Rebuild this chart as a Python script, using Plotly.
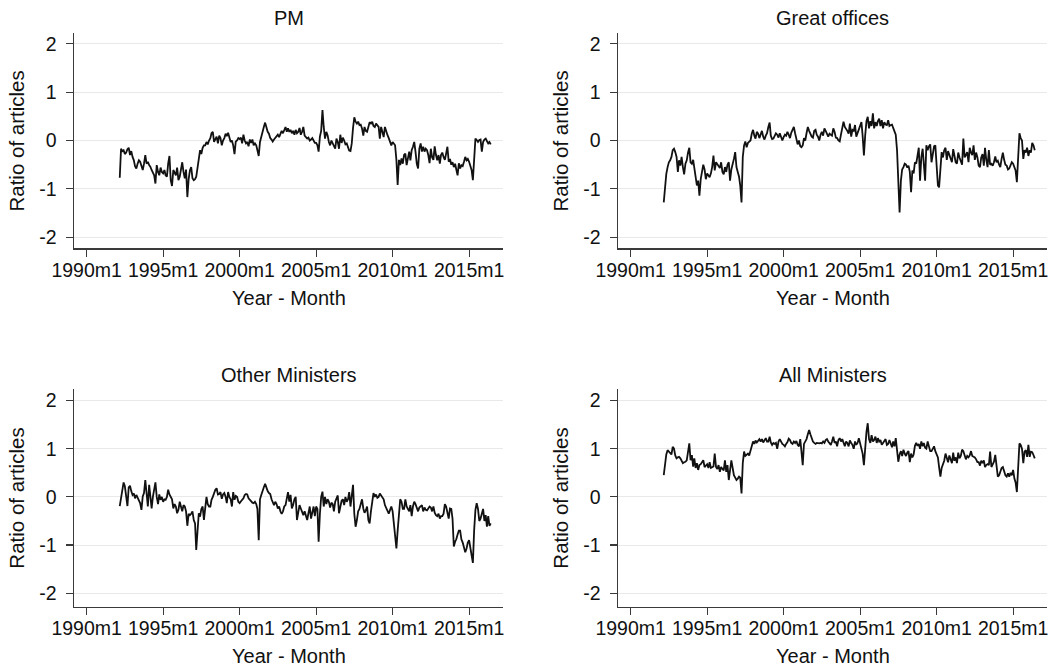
import pandas as pd
import plotly.graph_objects as go

# ---------------- data (monthly, 1992m3 .. 2016m6) ----------------
START_MONTH = "1992-03-01"
PANEL_TITLES = ["PM", "Great offices", "Other Ministers", "All Ministers"]
X_TICK_VALUES = ["1990-01-01", "1995-01-01", "2000-01-01", "2005-01-01", "2010-01-01", "2015-01-01"]
X_TICK_LABELS = ["1990m1", "1995m1", "2000m1", "2005m1", "2010m1", "2015m1"]
Y_TICKS = [-2, -1, 0, 1, 2]
Y_TICK_LABELS = ["-2", "-1", "0", "1", "2"]
X_TITLE = "Year - Month"
Y_TITLE = "Ratio of articles"

pm = [
    -0.77, -0.17, -0.22, -0.2, -0.28, -0.25, -0.18, -0.15, -0.3, -0.22,
    -0.34, -0.41, -0.53, -0.58, -0.48, -0.41, -0.44, -0.54, -0.61, -0.48, -0.3, -0.48,
    -0.44, -0.51, -0.54, -0.61, -0.68, -0.72, -0.89, -0.51, -0.65, -0.72, -0.56, -0.65,
    -0.68, -0.61, -0.72, -0.75, -0.48, -0.32, -0.82, -0.94, -0.61, -0.68, -0.72, -0.56,
    -0.82, -0.75, -0.62, -0.45, -0.65, -0.78, -0.6, -1.17, -0.8, -0.62, -0.55, -0.78,
    -0.82, -0.8, -0.75, -0.55, -0.37, -0.2, -0.28, -0.15, -0.1, -0.1, -0.03, -0.08,
    0.0, 0.05, 0.15, 0.18, -0.03, 0.02, 0.08, -0.06, 0.1, 0.05, -0.1, 0.0,
    0.05, 0.14, 0.09, 0.16, 0.06, -0.03, 0.0, -0.1, -0.28, -0.02, 0.0, 0.05,
    0.03, 0.06, -0.06, 0.12, 0.0, -0.06, -0.03, -0.12, 0.02, -0.05, 0.02, -0.1,
    -0.06, -0.1, -0.2, -0.32, -0.03, 0.09, 0.21, 0.28, 0.37, 0.25, 0.18, 0.14,
    0.05, 0.02, -0.02, 0.02, 0.06, 0.08, 0.12, 0.07, 0.14, 0.2, 0.15, 0.22,
    0.28, 0.18, 0.25, 0.18, 0.22, 0.15, 0.2, 0.12, 0.22, 0.15, 0.18, 0.26,
    0.12, 0.18, 0.28, 0.1, 0.07, 0.04, 0.06, 0.0, 0.02, 0.05, 0.0, -0.05,
    -0.05, -0.1, -0.23, 0.08, 0.2, 0.63, 0.28, 0.04, 0.18, 0.11, -0.03, -0.1,
    0.0, -0.07, -0.13, -0.17, 0.04, -0.03, -0.17, 0.12, -0.05, 0.06, 0.0, -0.08,
    -0.06, -0.17, -0.21, -0.22, -0.06, 0.26, 0.48, 0.39, 0.35, 0.39, 0.32, 0.33,
    0.25, 0.1, 0.28, 0.2, 0.18, 0.28, 0.38, 0.35, 0.39, 0.3, 0.28, 0.35,
    0.32, 0.28, 0.04, 0.28, 0.18, 0.07, 0.28, 0.18, 0.11, 0.05, -0.03, -0.1,
    -0.03, -0.06, -0.1, -0.4, -0.92, -0.4, -0.51, -0.37, -0.48, -0.3, -0.27, -0.51,
    -0.34, -0.23, -0.41, -0.2, -0.13, -0.03, -0.23, -0.48, -0.58, -0.17, -0.06, -0.23,
    -0.13, -0.23, -0.17, -0.2, -0.3, -0.47, -0.17, -0.35, -0.4, -0.12, -0.3, -0.41,
    -0.3, -0.48, -0.3, -0.25, -0.34, -0.4, -0.27, -0.13, -0.44, -0.38, -0.5, -0.45,
    -0.55, -0.48, -0.6, -0.72, -0.47, -0.58, -0.51, -0.53, -0.44, -0.34, -0.41, -0.38,
    -0.44, -0.51, -0.61, -0.82, -0.41, 0.04, 0.01, -0.03, 0.01, 0.02, -0.23, -0.03,
    0.02, 0.04, -0.01, -0.06, -0.03, -0.08,
]

great_offices = [
    -1.28, -0.95, -0.69, -0.55, -0.45, -0.41, -0.34, -0.2, -0.17, -0.24,
    -0.34, -0.65, -0.41, -0.52, -0.34, -0.55, -0.7, -0.48, -0.41, -0.25, -0.15, -0.45,
    -0.48, -0.4, -0.55, -0.78, -0.93, -0.83, -1.14, -0.8, -0.65, -0.5, -0.6, -0.8,
    -0.68, -0.72, -0.76, -0.68, -0.55, -0.31, -0.62, -0.45, -0.5, -0.55, -0.57, -0.45,
    -0.65, -0.7, -0.55, -0.65, -0.5, -0.45, -0.83, -0.6, -0.5, -0.38, -0.24, -0.55,
    -0.65, -0.75, -0.93, -1.28, -0.34, -0.1, -0.02, -0.14, -0.05, -0.02, 0.0, 0.14,
    0.22, 0.1, 0.04, 0.18, 0.14, 0.05, 0.15, 0.2, 0.08, 0.02, 0.1, 0.15,
    0.28, 0.37, 0.1, 0.03, 0.04, 0.1, 0.15, 0.12, 0.06, 0.15, 0.05, 0.0,
    0.07, 0.12, 0.1, 0.18, 0.12, 0.05, 0.16, 0.22, 0.28, 0.15, 0.05, -0.08,
    0.0, -0.12, -0.14, -0.1, 0.05, 0.0, 0.15, 0.28, 0.2, 0.12, 0.08, 0.06,
    0.2, 0.22, 0.12, 0.08, 0.0, 0.12, 0.18, 0.1, 0.25, 0.2, 0.15, 0.08,
    0.14, 0.12, 0.1, 0.25, 0.18, 0.06, 0.05, 0.0, -0.02, 0.12, 0.25, 0.39,
    0.28, 0.25, 0.2, 0.14, 0.35, 0.08, 0.22, 0.2, 0.32, 0.08, 0.15, 0.2,
    0.28, 0.38, 0.1, -0.31, 0.1, 0.4, 0.49, 0.25, 0.4, 0.3, 0.56, 0.25,
    0.38, 0.3, 0.4, 0.45, 0.3, 0.42, 0.25, 0.38, 0.33, 0.32, 0.42, 0.3,
    0.32, 0.33, 0.26, 0.2, 0.12, -0.2, -0.8, -1.49, -0.83, -0.6, -0.55, -0.48,
    -0.5, -0.56, -0.52, -0.65, -1.07, -0.62, -0.68, -0.45, -0.48, -0.3, -0.15, -0.83,
    -0.35, -0.17, -0.5, -0.83, -0.1, -0.2, -0.12, -0.08, -0.45, -0.25, -0.12, -0.1,
    -0.48, -0.93, -0.97, -0.45, -0.24, -0.35, -0.2, -0.15, -0.4, -0.22, -0.3, -0.38,
    -0.45, -0.18, -0.32, -0.45, -0.48, -0.25, -0.35, -0.42, -0.5, 0.04, -0.35, -0.3,
    -0.24, -0.45, -0.15, -0.25, -0.3, -0.1, -0.4, -0.25, -0.35, -0.52, -0.55, -0.35,
    -0.28, -0.52, -0.15, -0.4, -0.55, -0.2, -0.5, -0.48, -0.52, -0.45, -0.33, -0.45,
    -0.42, -0.5, -0.55, -0.38, -0.25, -0.4, -0.5, -0.52, -0.6, -0.58, -0.52, -0.45,
    -0.48, -0.55, -0.62, -0.86, -0.2, 0.15, 0.05, 0.0, -0.38, -0.2, -0.25, -0.15,
    -0.32, -0.2, -0.25, -0.05, -0.1, -0.2,
]

other_ministers = [
    -0.19, 0.0, 0.15, 0.3, 0.22, -0.05, -0.19, 0.2, 0.23, 0.12,
    0.04, 0.07, -0.03, 0.04, -0.02, -0.1, -0.13, -0.27, 0.01, 0.08, 0.35, 0.08,
    -0.2, 0.25, 0.05, -0.24, 0.0, 0.15, 0.3, 0.0, -0.15, 0.05, -0.06, 0.0,
    -0.1, -0.05, -0.06, 0.0, 0.15, 0.05, -0.02, -0.05, -0.24, -0.15, -0.2, -0.34,
    -0.27, -0.1, -0.2, -0.3, -0.17, -0.2, -0.3, -0.6, -0.35, -0.38, -0.35, -0.3,
    -0.48, -0.55, -1.1, -0.62, -0.34, -0.41, -0.25, -0.2, -0.48, -0.24, 0.0, -0.15,
    -0.2, -0.2, -0.06, 0.0, 0.08, 0.15, 0.18, 0.05, 0.06, 0.1, -0.04, 0.05,
    0.08, 0.0, -0.13, 0.1, 0.0, -0.05, -0.2, 0.1, -0.06, 0.02, 0.0, -0.1,
    -0.13, -0.08, -0.06, -0.03, 0.04, 0.06, 0.05, -0.03, -0.06, -0.1, -0.12, -0.13,
    -0.1, -0.15, -0.25, -0.9, -0.05, 0.04, 0.1, 0.2, 0.27, 0.18, 0.12, 0.08,
    0.06, -0.05, -0.12, -0.17, -0.1, -0.15, -0.24, -0.2, -0.3, -0.35, -0.3, -0.2,
    -0.17, 0.0, 0.1, -0.1, 0.04, -0.24, -0.17, -0.05, 0.0, -0.48, -0.27, -0.17,
    -0.24, -0.3, -0.38, -0.3, -0.4, -0.48, -0.34, -0.2, -0.45, -0.35, -0.2, -0.4,
    -0.2, -0.25, -0.93, -0.35, 0.0, 0.11, -0.2, 0.0, -0.15, -0.05, -0.1, -0.22,
    -0.12, -0.15, -0.3, -0.1, -0.05, 0.03, -0.34, -0.2, -0.08, -0.05, -0.17, 0.0,
    -0.1, -0.05, 0.1, -0.2, 0.0, 0.25, -0.35, -0.62, -0.48, -0.3, -0.25, -0.15,
    -0.05, -0.24, -0.33, -0.28, -0.2, -0.48, -0.55, -0.3, -0.1, 0.08, 0.0, 0.05,
    -0.02, 0.0, 0.07, 0.03, -0.02, -0.05, -0.17, -0.22, -0.28, -0.35, -0.27, -0.2,
    -0.3, -0.55, -0.85, -1.07, -0.7, -0.35, -0.05, -0.1, -0.25, -0.25, -0.05, -0.2,
    -0.25, -0.3, -0.17, -0.4, -0.2, -0.1, -0.15, -0.25, -0.3, -0.22, -0.2, -0.17,
    -0.3, -0.22, -0.27, -0.28, -0.24, -0.2, -0.22, -0.3, -0.2, -0.33, -0.38, -0.4,
    -0.35, -0.45, -0.4, -0.4, -0.35, -0.15, -0.2, -0.35, -0.45, -0.24, -0.25, -0.45,
    -1.03, -0.93, -0.88, -0.78, -0.7, -0.7, -0.88, -0.95, -1.05, -1.15, -1.07, -0.95,
    -0.9, -1.1, -1.17, -1.37, -0.7, -0.27, -0.13, -0.25, -0.5, -0.45, -0.35, -0.25,
    -0.5, -0.38, -0.62, -0.4, -0.6, -0.55,
]

all_ministers = [
    0.45, 0.7, 0.88, 0.97, 0.94, 0.93, 0.88, 1.04, 1.0, 0.86,
    0.8, 0.82, 0.83, 0.8, 0.76, 0.7, 0.72, 0.73, 0.76, 0.9, 1.11, 0.76,
    0.87, 0.63, 0.8, 0.6, 0.7, 0.56, 0.66, 0.68, 0.74, 0.76, 0.62, 0.66,
    0.68, 0.6, 0.72, 0.6, 0.62, 0.63, 0.9, 0.62, 0.58, 0.66, 0.52, 0.62,
    0.58, 0.55, 0.76, 0.52, 0.66, 0.35, 0.55, 0.76, 0.6, 0.45, 0.4, 0.35,
    0.38, 0.42, 0.4, 0.07, 0.7, 0.94, 0.85, 0.88, 0.9, 0.86, 0.97, 1.08,
    1.15, 1.1, 1.17, 1.13, 1.17, 1.2, 1.15, 1.2, 1.13, 1.17, 1.22, 1.15,
    1.15, 1.25, 1.13, 1.08, 1.12, 1.1, 1.12, 1.0, 1.15, 1.2, 1.14, 1.1,
    1.08, 1.05, 1.1, 1.14, 1.21, 1.18, 1.12, 1.1, 1.15, 1.12, 1.16, 1.08,
    1.05, 1.2, 0.95, 0.66, 1.1, 1.15, 1.2, 1.3, 1.39, 1.3, 1.22, 1.15,
    1.12, 1.1, 1.12, 1.11, 1.11, 1.12, 1.11, 1.15, 1.12, 1.18, 1.2, 1.15,
    1.12, 1.08, 1.15, 1.25, 1.12, 1.15, 1.05, 1.18, 1.22, 1.15, 1.2, 1.12,
    1.05, 1.15, 1.12, 1.05, 1.17, 1.12, 1.08, 1.0, 1.15, 1.08, 1.12, 1.22,
    1.1, 1.05, 0.9, 0.66, 1.04, 1.35, 1.53, 1.2, 1.12, 1.28, 1.15, 1.18,
    1.25, 1.12, 1.22, 1.15, 1.18, 1.08, 1.12, 1.15, 1.2, 1.08, 1.1, 1.18,
    1.1, 1.03, 1.15, 1.05, 1.22, 1.0, 0.73, 0.88, 0.95, 0.85, 0.98, 0.9,
    0.85, 0.92, 0.95, 0.72, 0.9, 0.82, 0.88, 1.06, 1.12, 1.06, 1.1, 1.0,
    1.15, 1.05, 1.12, 1.02, 1.0, 1.15, 1.05, 0.95, 0.95, 1.0, 1.05, 0.95,
    0.9, 0.82, 0.62, 0.42, 0.6, 0.68, 0.75, 0.9, 0.8, 0.72, 0.86, 0.8,
    0.7, 0.92, 0.75, 0.82, 0.7, 0.92, 0.8, 0.85, 0.98, 0.95, 0.85, 0.78,
    0.85, 0.82, 0.86, 0.95, 0.85, 0.83, 0.82, 0.78, 0.72, 0.72, 0.65, 0.75,
    0.7, 0.76, 0.62, 0.66, 0.68, 0.66, 0.94, 0.62, 0.7, 0.73, 0.87, 0.65,
    0.42, 0.45, 0.55, 0.6, 0.62, 0.52, 0.45, 0.42, 0.49, 0.42, 0.5, 0.45,
    0.56, 0.38, 0.3, 0.1, 0.6, 1.11, 1.08, 1.0, 0.7, 0.94, 0.97, 0.83,
    1.08, 0.83, 0.94, 0.93, 0.87, 0.8,
]

SERIES = [pm, great_offices, other_ministers, all_ministers]

# ---------------- layout geometry (pixels in a 1052 x 670 canvas) ----------------
W, H = 1052, 670
X_DOMAINS_PX = [(74.3, 502.7), (618.3, 1046.7)]      # left column, right column
Y_DOMAINS_PX = [(33.2, 248.3), (389.0, 606.7)]        # top row, bottom row (top, bottom)
Y_RANGES = [[-2.23, 2.22], [-2.28, 2.24]]
X_RANGE = ["1989-03-12", "2017-03-13"]
TITLE_Y_PX = [18, 375]
XTITLE_Y_PX = [298, 656]
YTITLE_X_OFFSET = 57.5

FONT = "Liberation Sans, Arial, Helvetica, sans-serif"
TXT = "#111111"
AXIS = "#3a3a3a"
GRID = "#e9e9e9"

fig = go.Figure()
annotations = []

for i, (title, vals) in enumerate(zip(PANEL_TITLES, SERIES)):
    row, col = divmod(i, 2)
    n = i + 1
    xa = "x" if n == 1 else f"x{n}"
    ya = "y" if n == 1 else f"y{n}"
    dates = pd.date_range(START_MONTH, periods=len(vals), freq="MS")
    fig.add_trace(go.Scatter(
        x=dates, y=vals, mode="lines",
        line=dict(color="#111111", width=1.8),
        xaxis=xa, yaxis=ya, showlegend=False, hoverinfo="skip",
    ))

    x0, x1 = X_DOMAINS_PX[col]
    yt, yb = Y_DOMAINS_PX[row]
    xdom = [x0 / W, x1 / W]
    ydom = [1 - yb / H, 1 - yt / H]

    fig.update_layout(**{
        ("xaxis" if n == 1 else f"xaxis{n}"): dict(
            domain=xdom, anchor=ya, type="date", range=X_RANGE,
            tickmode="array", tickvals=X_TICK_VALUES, ticktext=X_TICK_LABELS,
            ticks="outside", ticklen=7, tickwidth=1.2, tickcolor=AXIS,
            showline=True, linecolor=AXIS, linewidth=1.3,
            showgrid=False, zeroline=False, automargin=False,
            tickfont=dict(family=FONT, size=19.5, color=TXT),
            ticklabelstandoff=-3,
        ),
        ("yaxis" if n == 1 else f"yaxis{n}"): dict(
            domain=ydom, anchor=xa, range=Y_RANGES[row],
            tickmode="array", tickvals=Y_TICKS, ticktext=Y_TICK_LABELS,
            ticks="outside", ticklen=7.5, tickwidth=1.2, tickcolor=AXIS,
            showline=True, linecolor=AXIS, linewidth=1.3,
            showgrid=True, gridcolor=GRID, gridwidth=1, zeroline=False,
            automargin=False,
            tickfont=dict(family=FONT, size=19.5, color=TXT),
            ticklabelstandoff=5,
        ),
    })

    cx = (x0 + x1) / 2 / W
    annotations.append(dict(
        text=title, x=cx, y=1 - TITLE_Y_PX[row] / H, xref="paper", yref="paper",
        xanchor="center", yanchor="middle", showarrow=False,
        font=dict(family=FONT, size=20, color=TXT),
    ))
    annotations.append(dict(
        text=X_TITLE, x=cx, y=1 - XTITLE_Y_PX[row] / H, xref="paper", yref="paper",
        xanchor="center", yanchor="middle", showarrow=False,
        font=dict(family=FONT, size=20, color=TXT),
    ))
    annotations.append(dict(
        text=Y_TITLE, x=(x0 - YTITLE_X_OFFSET) / W, y=1 - (yt + yb) / 2 / H,
        xref="paper", yref="paper", textangle=-90,
        xanchor="center", yanchor="middle", showarrow=False,
        font=dict(family=FONT, size=20.5, color=TXT),
    ))

fig.update_layout(
    width=W, height=H,
    margin=dict(l=0, r=0, t=0, b=0, autoexpand=False),
    paper_bgcolor="white", plot_bgcolor="white",
    annotations=annotations,
    showlegend=False,
)

fig.write_html(
    "out.html",
    config={"displayModeBar": False, "staticPlot": True},
    post_script="document.body.style.margin='0';document.body.style.padding='0';"
                "document.body.style.overflow='hidden';",
)
